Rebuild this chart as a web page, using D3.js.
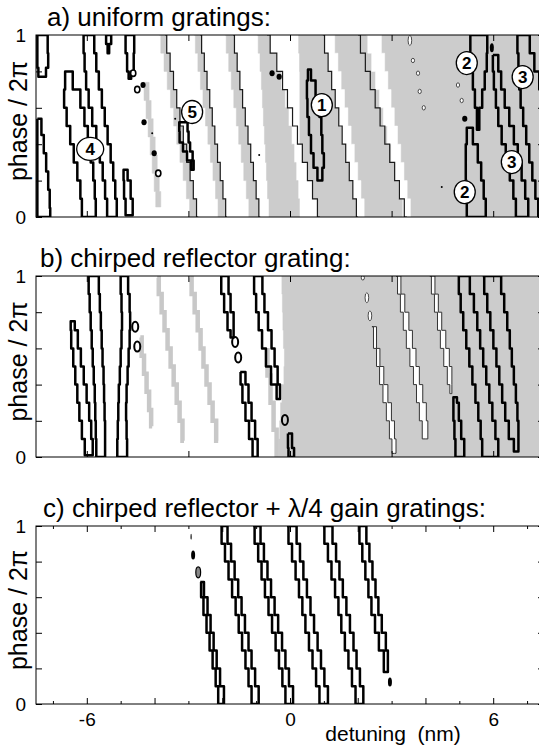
<!DOCTYPE html>
<html>
<head>
<meta charset="utf-8">
<script src="https://cdnjs.cloudflare.com/ajax/libs/d3/7.8.5/d3.min.js"></script>
<style>
  body { margin: 0; background: #fff; }
  svg { display: block; font-family: "Liberation Sans", Arial, sans-serif; }
</style>
</head>
<body>
<div id="grafica"></div>
<script>
// ---------- datos (detuning en nm, fase en unidades de 2pi) ----------
var fullPhase = [1, 0.9, 0.8, 0.7, 0.6, 0.5, 0.4, 0.3, 0.2, 0.1, 0];
var rightEdge = [7.6, 7.6, 7.6, 7.6, 7.6, 7.6, 7.6, 7.6, 7.6, 7.6, 7.6];
var xTicksAB = [-6, -3, 0, 3, 6];
var xMajorC = [-6, -4, -2, 0, 2, 4, 6];
var xMinorC = [-7, -5, -3, -1, 1, 3, 5, 7];
var xTickLabels = [-6, 0, 6];
var yTicks = [0, 0.2, 0.4, 0.6, 0.8, 1];
var yTickLabels = [0, 1];
var titles = ["a) uniform gratings:", "b) chirped reflector grating:", "c) chirped reflector + \u03bb/4 gain gratings:"];

// a) lineas finas escalonadas (x en cada valor de fullPhase)
var stairsA = [
  [-3.69, -3.59, -3.49, -3.39, -3.30, -3.20, -3.10, -3.00, -2.90, -2.81, -2.71],
  [-2.65, -2.57, -2.49, -2.41, -2.33, -2.26, -2.18, -2.10, -2.02, -1.94, -1.86],
  [-1.68, -1.60, -1.52, -1.44, -1.36, -1.28, -1.20, -1.12, -1.04, -0.96, -0.88],
  [-0.68, -0.49, -0.29, -0.15, 0, 0.15, 0.29, 0.44, 0.59, 0.74, 0.88],
  [0.97, 1.07, 1.18, 1.28, 1.39, 1.49, 1.59, 1.70, 1.80, 1.91, 2.01],
  [2.01, 2.15, 2.30, 2.44, 2.59, 2.73, 2.87, 3.02, 3.16, 3.30, 3.45]
];

// a) zonas grises
var grayA = [
  {p: [0.74, 0.64, 0.54, 0.44, 0.34, 0.24, 0.14, 0.055], l: [-4.34, -4.28, -4.22, -4.16, -4.10, -4.04, -3.98, -3.95], r: [-4.19, -4.13, -4.07, -4.01, -3.95, -3.89, -3.83, -3.80]},
  {p: fullPhase, l: [-3.86, -3.77, -3.67, -3.58, -3.48, -3.39, -3.30, -3.20, -3.11, -3.01, -2.92], r: stairsA[0]},
  {p: fullPhase, l: [-2.83, -2.76, -2.68, -2.61, -2.53, -2.46, -2.39, -2.31, -2.24, -2.16, -2.09], r: stairsA[1]},
  {p: fullPhase, l: [-1.92, -1.85, -1.77, -1.70, -1.62, -1.55, -1.48, -1.40, -1.33, -1.25, -1.18], r: stairsA[2]},
  {p: fullPhase, l: [-0.97, -0.91, -0.86, -0.83, -0.80, -0.77, -0.74, -0.71, -0.68, -0.65, -0.59], r: [-0.68, -0.50, -0.32, -0.21, -0.09, 0, 0.09, 0.15, 0.21, 0.27, 0.29]},
  {p: fullPhase, l: [0.24, 0.27, 0.29, 0.29, 0.29, 0.29, 0.29, 0.44, 0.59, 0.74, 0.88], r: rightEdge}
];

// a) franjas blancas dentro de la zona gris
var whiteA = [
  {p: fullPhase, l: stairsA[4], r: [1.27, 1.37, 1.46, 1.56, 1.66, 1.76, 1.85, 1.95, 2.05, 2.14, 2.24]},
  {p: fullPhase, l: [2.24, 2.35, 2.47, 2.58, 2.70, 2.81, 2.93, 3.04, 3.16, 3.27, 3.39], r: [2.65, 2.75, 2.84, 2.94, 3.03, 3.13, 3.22, 3.32, 3.41, 3.51, 3.60]}
];

// a) contornos gruesos
var loopsA = [
  {p: [1, 0.9, 0.82, 0.77], l: [-7.46, -7.46, -7.46, -7.40], r: [-7.14, -7.17, -7.11, -7.30]},
  {p: [0.54, 0.45, 0.35, 0.25, 0.15, 0.05, 0], l: [-7.46, -7.46, -7.46, -7.46, -7.46, -7.46, -7.46], r: [-7.37, -7.31, -7.23, -7.17, -7.11, -7.08, -7.08]},
  {p: [0.8, 0.7, 0.6, 0.5, 0.4, 0.3, 0.2, 0.1, 0], l: [-6.58, -6.70, -6.64, -6.55, -6.43, -6.34, -6.22, -6.16, -6.13], r: [-6.58, -6.25, -6.13, -6.01, -5.93, -5.84, -5.78, -5.75, -5.72]},
  {p: fullPhase, l: [-6.11, -6.08, -6.05, -5.99, -5.90, -5.78, -5.66, -5.57, -5.49, -5.43, -5.37], r: [-5.81, -5.75, -5.69, -5.60, -5.51, -5.43, -5.34, -5.25, -5.19, -5.13, -5.10]},
  {p: [1, 0.95, 0.9], l: [-5.46, -5.40, -5.37], r: [-5.25, -5.31, -5.37]},
  {p: [1, 0.9, 0.8, 0.76], l: [-4.87, -4.84, -4.78, -4.75], r: [-4.60, -4.60, -4.63, -4.75]},
  {p: [0.26, 0.2, 0.1, 0.01], l: [-4.90, -4.93, -4.87, -4.84], r: [-4.84, -4.75, -4.66, -4.63]},
  {p: [0.52, 0.47, 0.41, 0.36, 0.31, 0.26], l: [-3.24, -3.30, -3.22, -3.10, -2.98, -2.86], r: [-3.04, -3.01, -2.98, -2.92, -2.83, -2.86]},
  {p: [0.81, 0.75, 0.65, 0.55, 0.45, 0.35, 0.27, 0.2], l: [0.56, 0.50, 0.50, 0.53, 0.59, 0.65, 0.74, 0.88], r: [0.56, 0.68, 0.83, 0.91, 0.94, 0.97, 1.03, 0.88]},
  {p: [1, 0.9, 0.8, 0.7, 0.6, 0.48], l: [5.31, 5.34, 5.37, 5.43, 5.49, 5.55], r: [5.81, 5.84, 5.78, 5.72, 5.63, 5.55]},
  {p: [0.49, 0.4, 0.3, 0.2, 0.1, 0], l: [5.25, 5.19, 5.19, 5.19, 5.22, 5.22], r: [5.31, 5.49, 5.60, 5.69, 5.75, 5.81]},
  {p: [0.89, 0.8, 0.7, 0.6, 0.5, 0.4, 0.3, 0.2, 0.1, 0], l: [5.99, 5.99, 6.05, 6.11, 6.19, 6.31, 6.43, 6.55, 6.64, 6.70], r: [6.11, 6.19, 6.28, 6.40, 6.55, 6.67, 6.78, 6.90, 6.99, 7.08]},
  {p: fullPhase, l: [6.70, 6.73, 6.76, 6.78, 6.84, 6.93, 7.02, 7.11, 7.20, 7.29, 7.37], r: [7.02, 7.14, 7.29, 7.43, 7.58, 7.73, 7.85, 7.96, 8.08, 8.20, 8.32]}
];

// a) puntos y ovalos pequenos [detuning, fase, tipo]
var dotsA = [
  [-4.63, 0.79, "ring"], [-4.51, 0.70, "ring"], [-4.34, 0.725, "dot"], [-4.31, 0.52, "dot"],
  [-4.01, 0.35, "dot"], [-3.89, 0.24, "ring"], [-4.07, 0.46, "tiny"], [-3.39, 0.54, "tiny"],
  [-0.91, 0.34, "tiny"], [-0.53, 0.79, "dot"], [-0.32, 0.77, "dot"],
  [3.54, 0.97, "wlong"], [3.63, 0.86, "wring"], [3.78, 0.79, "wring"], [3.83, 0.69, "wring"], [3.95, 0.60, "wring"],
  [4.96, 0.725, "wring"], [5.07, 0.64, "wring"], [5.16, 0.54, "dot"], [4.48, 0.165, "tiny"], [5.96, 0.93, "dotTall"]
];

// a) etiquetas numeradas [detuning, fase, texto]
var labelsA = [
  [-5.90, 0.374, "4"], [-2.89, 0.577, "5"], [0.94, 0.615, "1"], [5.22, 0.846, "2"],
  [5.16, 0.137, "2"], [6.87, 0.769, "3"], [6.55, 0.302, "3"]
];

// b) zona gris
var grayB = [
  {p: fullPhase, l: [-0.24, -0.24, -0.21, -0.21, -0.18, -0.15, -0.21, -0.27, -0.29, -0.32, -0.35], r: rightEdge}
];

// b) escalones gris claro
var lightStairsB = [
  {p: [0.66, 0.56, 0.46, 0.36, 0.26, 0.17], x: [-4.42, -4.34, -4.28, -4.19, -4.13, -4.07]},
  {p: [0.99, 0.9, 0.8, 0.7, 0.6, 0.5, 0.4, 0.3, 0.2, 0.09], x: [-3.92, -3.83, -3.75, -3.66, -3.57, -3.48, -3.39, -3.30, -3.22, -3.13]},
  {p: [0.99, 0.9, 0.8, 0.7, 0.6, 0.5, 0.4, 0.3, 0.2, 0.09], x: [-2.95, -2.86, -2.77, -2.68, -2.60, -2.51, -2.42, -2.33, -2.24, -2.12]},
  {p: [0.59, 0.45, 0.3, 0.15, 0], x: [-0.71, -0.62, -0.53, -0.44, -0.35]}
];

// b) franjas blancas con borde fino
var whiteB = [
  {p: [0.72, 0.6, 0.5, 0.4, 0.3, 0.2, 0.1, 0.02], l: [2.42, 2.51, 2.60, 2.69, 2.80, 2.89, 2.98, 3.04], r: [2.51, 2.60, 2.71, 2.83, 2.95, 3.04, 3.13, 3.13]},
  {p: [1, 0.9, 0.8, 0.7, 0.6, 0.5, 0.4, 0.3, 0.2, 0.1], l: [3.13, 3.22, 3.30, 3.39, 3.48, 3.60, 3.69, 3.78, 3.86, 3.95], r: [3.22, 3.33, 3.45, 3.57, 3.66, 3.78, 3.86, 3.98, 4.07, 4.07]},
  {p: [1, 0.9, 0.8, 0.7, 0.6, 0.5, 0.4, 0.35], l: [4.13, 4.22, 4.31, 4.40, 4.48, 4.60, 4.69, 4.75], r: [4.22, 4.34, 4.42, 4.54, 4.66, 4.75, 4.81, 4.75]}
];

// b) contornos gruesos
var loopsB = [
  {p: [0.75, 0.7, 0.6, 0.5, 0.4, 0.3, 0.2, 0.1, 0.01], l: [-6.46, -6.49, -6.43, -6.37, -6.31, -6.25, -6.19, -6.10, -6.02], r: [-6.40, -6.31, -6.22, -6.13, -6.05, -5.96, -5.90, -5.84, -5.81]},
  {p: fullPhase, l: [-5.96, -5.93, -5.90, -5.87, -5.84, -5.81, -5.78, -5.75, -5.75, -5.72, -5.72], r: [-5.66, -5.63, -5.60, -5.57, -5.55, -5.52, -5.49, -5.49, -5.46, -5.46, -5.46]},
  {p: fullPhase, l: [-5.01, -4.99, -4.96, -4.96, -4.99, -5.01, -5.04, -5.07, -5.07, -5.10, -5.10], r: [-4.81, -4.75, -4.72, -4.72, -4.75, -4.78, -4.81, -4.84, -4.84, -4.81, -4.81]},
  {p: [1, 0.9, 0.8, 0.7, 0.66], l: [-2.06, -2.00, -1.89, -1.80, -1.71], r: [-1.83, -1.80, -1.71, -1.62, -1.71]},
  {p: [0.47, 0.4, 0.3, 0.2, 0.1, 0], l: [-1.47, -1.45, -1.36, -1.27, -1.15, -1.06], r: [-1.36, -1.27, -1.18, -1.09, -0.97, -0.94]},
  {p: [1, 0.9, 0.8, 0.7, 0.6, 0.5, 0.4, 0.32], l: [-1.09, -1.03, -0.97, -0.88, -0.77, -0.65, -0.47, -0.32], r: [-0.83, -0.80, -0.71, -0.59, -0.50, -0.41, -0.32, -0.27]},
  {p: [0.13, 0.05, 0], l: [-0.06, -0.06, -0.03], r: [0.03, 0.09, 0.15]},
  {p: [0.33, 0.3, 0.2, 0.1, 0], l: [4.84, 4.81, 4.84, 4.87, 4.90], r: [4.90, 4.96, 5.01, 5.10, 5.19]},
  {p: fullPhase, l: [4.96, 5.01, 5.07, 5.16, 5.25, 5.34, 5.43, 5.52, 5.60, 5.66, 5.69], r: [5.25, 5.37, 5.49, 5.57, 5.66, 5.75, 5.84, 5.93, 6.02, 6.11, 6.19]},
  {p: [1, 0.9, 0.8, 0.7, 0.6, 0.5, 0.4, 0.3, 0.2, 0.1, 0.03], l: [5.69, 5.78, 5.87, 5.96, 6.05, 6.14, 6.22, 6.31, 6.40, 6.52, 6.70], r: [6.19, 6.28, 6.37, 6.46, 6.52, 6.58, 6.64, 6.70, 6.73, 6.76, 6.73]}
];

var dotsB = [
  [-4.57, 0.72, "oval"], [-4.51, 0.61, "oval"],
  [-1.62, 0.635, "oval"], [-1.53, 0.55, "oval"], [-0.15, 0.205, "oval"],
  [2.15, 0.99, "wring"], [2.27, 0.88, "wlong"], [2.36, 0.78, "wlong"]
];

// c) contornos gruesos
var loopsC = [
  {p: [0.685, 0.6, 0.5, 0.4, 0.3, 0.2, 0.1, 0], l: [-2.65, -2.60, -2.51, -2.42, -2.33, -2.24, -2.15, -2.09], r: [-2.60, -2.48, -2.39, -2.30, -2.21, -2.12, -2.01, -1.89]},
  {p: fullPhase, l: [-2.06, -1.98, -1.86, -1.77, -1.65, -1.56, -1.47, -1.36, -1.27, -1.18, -1.09], r: [-1.89, -1.80, -1.68, -1.59, -1.47, -1.39, -1.27, -1.18, -1.09, -0.97, -0.88]},
  {p: fullPhase, l: [-1.09, -1.00, -0.88, -0.80, -0.68, -0.59, -0.47, -0.38, -0.27, -0.18, -0.09], r: [-0.91, -0.83, -0.71, -0.62, -0.50, -0.41, -0.29, -0.18, -0.09, 0.03, 0.15]},
  {p: fullPhase, l: [-0.09, 0, 0.12, 0.21, 0.32, 0.41, 0.50, 0.62, 0.71, 0.83, 0.91], r: [0.15, 0.24, 0.35, 0.44, 0.56, 0.65, 0.77, 0.86, 0.97, 1.06, 1.18]},
  {p: fullPhase, l: [0.97, 1.06, 1.18, 1.27, 1.39, 1.47, 1.56, 1.68, 1.77, 1.89, 1.98], r: [1.21, 1.30, 1.42, 1.50, 1.62, 1.71, 1.83, 1.92, 2.01, 2.12, 2.21]},
  {p: [1, 0.9, 0.8, 0.7, 0.6, 0.5, 0.4, 0.3, 0.18], l: [2.01, 2.09, 2.18, 2.27, 2.36, 2.45, 2.57, 2.68, 2.86], r: [2.21, 2.30, 2.39, 2.48, 2.57, 2.65, 2.77, 2.89, 2.89]}
];

var dotsC = [
  [2.95, 0.124, "dotTall"], [-2.86, 0.837, "dotTall"], [-2.71, 0.74, "grayTall"], [-2.92, 0.94, "dash"]
];

// ---------- dibujo ----------
var plotLeft = 36, plotRight = 544;
var grey = "#cccccc";

var svg = d3.select("#grafica")
  .append("svg")
  .attr("width", 539)
  .attr("height", 751);

var x = d3.scaleLinear().domain([-7.5, 7.5]).range([plotLeft, plotRight]);

// tamanos de los puntos segun el tipo
var dotStyle = {
  dot: {rx: 2.6, ry: 3, fill: "#000", stroke: "none", sw: 0},
  ring: {rx: 2.6, ry: 3.2, fill: "#fff", stroke: "#000", sw: 1.6},
  tiny: {rx: 1, ry: 1, fill: "#000", stroke: "none", sw: 0},
  wring: {rx: 1.6, ry: 2.2, fill: "#fff", stroke: "#222", sw: 0.8},
  wlong: {rx: 1.8, ry: 5, fill: "#fff", stroke: "#222", sw: 0.8},
  oval: {rx: 3, ry: 5, fill: "none", stroke: "#000", sw: 2},
  dotTall: {rx: 2, ry: 4.5, fill: "#000", stroke: "none", sw: 0},
  grayTall: {rx: 2.4, ry: 5.5, fill: "#888", stroke: "#000", sw: 1.2},
  dash: {rx: 0.6, ry: 3, fill: "#000", stroke: "none", sw: 0}
};

function bandPoints(s) {
  var pts = s.l.map(function (v, i) { return [v, s.p[i]]; });
  for (var i = s.r.length - 1; i >= 0; i--) pts.push([s.r[i], s.p[i]]);
  pts.push(pts[0]);
  return pts;
}

function drawPanel(k, cfg) {
  var y = d3.scaleLinear().domain([0, 1]).range([cfg.bottom, cfg.top]);
  var line = d3.line()
    .x(function (d) { return x(d[0]); })
    .y(function (d) { return y(d[1]); })
    .curve(d3.curveStep);

  svg.append("clipPath").attr("id", "clip" + k)
    .append("rect")
    .attr("x", plotLeft).attr("y", cfg.top)
    .attr("width", plotRight - plotLeft).attr("height", cfg.bottom - cfg.top);

  var plot = svg.append("g").attr("clip-path", "url(#clip" + k + ")");

  // zonas grises
  plot.selectAll(null).data(cfg.gray || []).enter().append("path")
    .attr("d", function (d) { return line(bandPoints(d)); })
    .attr("fill", grey).attr("stroke", grey).attr("stroke-width", 0.5);

  // franjas blancas
  plot.selectAll(null).data(cfg.white || []).enter().append("path")
    .attr("d", function (d) { return line(bandPoints(d)); })
    .attr("fill", "#fff")
    .attr("stroke", cfg.whiteStroke ? "#333" : "#fff")
    .attr("stroke-width", cfg.whiteStroke ? 1 : 0.5);

  // escalones gris claro
  plot.selectAll(null).data(cfg.lightStairs || []).enter().append("path")
    .attr("d", function (d) { return line(d.x.map(function (v, i) { return [v, d.p[i]]; })); })
    .attr("fill", "none").attr("stroke", "#c8c8c8").attr("stroke-width", 4.5);

  // lineas finas
  plot.selectAll(null).data(cfg.stairs || []).enter().append("path")
    .attr("d", function (d) { return line(d.map(function (v, i) { return [v, fullPhase[i]]; })); })
    .attr("fill", "none").attr("stroke", "#1a1a1a").attr("stroke-width", 1.2);

  // contornos gruesos
  plot.selectAll(null).data(cfg.loops || []).enter().append("path")
    .attr("d", function (d) { return line(bandPoints(d)); })
    .attr("fill", "none").attr("stroke", "#000").attr("stroke-width", 2.5)
    .attr("stroke-linejoin", "round");

  // puntos
  plot.selectAll(null).data(cfg.dots || []).enter().append("ellipse")
    .attr("cx", function (d) { return x(d[0]); })
    .attr("cy", function (d) { return y(d[1]); })
    .attr("rx", function (d) { return dotStyle[d[2]].rx; })
    .attr("ry", function (d) { return dotStyle[d[2]].ry; })
    .attr("fill", function (d) { return dotStyle[d[2]].fill; })
    .attr("stroke", function (d) { return dotStyle[d[2]].stroke; })
    .attr("stroke-width", function (d) { return dotStyle[d[2]].sw; });

  // etiquetas con circulo
  var lab = plot.selectAll(null).data(cfg.labels || []).enter().append("g")
    .attr("transform", function (d) { return "translate(" + x(d[0]) + "," + y(d[1]) + ")"; });
  lab.append("ellipse")
    .attr("rx", function (d) { return d[2] === "4" ? 13.5 : 10.5; })
    .attr("ry", 11.5)
    .attr("fill", "#fff").attr("stroke", "#000").attr("stroke-width", 1.3);
  lab.append("text")
    .attr("text-anchor", "middle").attr("dy", "0.36em")
    .style("font-size", "17px").style("font-weight", "bold")
    .text(function (d) { return d[2]; });

  // ejes con marcas hacia dentro
  var xt = cfg.xMajor || xTicksAB;
  var axes = [
    svg.append("g").attr("transform", "translate(" + plotLeft + ",0)")
      .call(d3.axisLeft(y).tickValues(yTicks).tickSizeInner(-6).tickSizeOuter(0).tickPadding(10)
        .tickFormat(function (d) { return yTickLabels.indexOf(d) >= 0 ? d : ""; })),
    svg.append("g").attr("transform", "translate(" + plotRight + ",0)")
      .call(d3.axisRight(y).tickValues(yTicks).tickSizeInner(-6).tickSizeOuter(0).tickFormat("")),
    svg.append("g").attr("transform", "translate(0," + cfg.top + ")")
      .call(d3.axisTop(x).tickValues(xt).tickSizeInner(-6).tickSizeOuter(0).tickFormat("")),
    svg.append("g").attr("transform", "translate(0," + cfg.bottom + ")")
      .call(d3.axisBottom(x).tickValues(xt).tickSizeInner(-6).tickSizeOuter(0).tickPadding(9)
        .tickFormat(function (d) { return cfg.xLabels && xTickLabels.indexOf(d) >= 0 ? d : ""; }))
  ];
  if (cfg.xMinor) {
    axes.push(svg.append("g").attr("transform", "translate(0," + cfg.bottom + ")")
      .call(d3.axisBottom(x).tickValues(cfg.xMinor).tickSizeInner(-3).tickSizeOuter(0).tickFormat("")));
    axes.push(svg.append("g").attr("transform", "translate(0," + cfg.top + ")")
      .call(d3.axisTop(x).tickValues(cfg.xMinor).tickSizeInner(-3).tickSizeOuter(0).tickFormat("")));
  }
  axes.forEach(function (a) {
    a.attr("font-family", null).attr("font-size", null);
    a.select(".domain").remove();
    a.selectAll("text").style("font-size", "19px");
  });

  // marco
  svg.append("rect")
    .attr("x", plotLeft).attr("y", cfg.top)
    .attr("width", plotRight - plotLeft).attr("height", cfg.bottom - cfg.top)
    .attr("fill", "none").attr("stroke", "#000").attr("stroke-width", 1);

  // titulo
  svg.append("text")
    .attr("x", cfg.titleX).attr("y", cfg.top - 9)
    .style("font-size", "26px")
    .text(cfg.title);

  // etiqueta eje y
  svg.append("text")
    .attr("transform", "translate(27," + ((cfg.top + cfg.bottom) / 2 - 5) + ") rotate(-90)")
    .attr("text-anchor", "middle")
    .style("font-size", "25px")
    .text("phase / 2\u03c0");
}

drawPanel("a", {top: 35, bottom: 217, title: titles[0], titleX: 47,
  gray: grayA, white: whiteA, stairs: stairsA, loops: loopsA, dots: dotsA, labels: labelsA});
drawPanel("b", {top: 276, bottom: 457, title: titles[1], titleX: 40,
  gray: grayB, white: whiteB, whiteStroke: true, lightStairs: lightStairsB, loops: loopsB, dots: dotsB});
drawPanel("c", {top: 526, bottom: 704, title: titles[2], titleX: 43,
  loops: loopsC, dots: dotsC, xMajor: xMajorC, xMinor: xMinorC, xLabels: true});

// etiqueta eje x
svg.append("text")
  .attr("x", 393).attr("y", 741)
  .attr("text-anchor", "middle")
  .style("font-size", "21px")
  .style("white-space", "pre")
  .text("detuning  (nm)");
</script>
</body>
</html>
